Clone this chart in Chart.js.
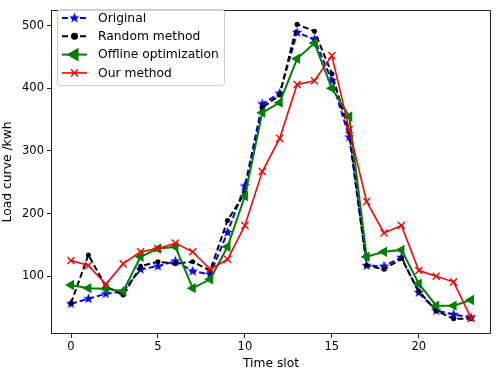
<!DOCTYPE html>
<html>
<head>
<meta charset="utf-8">
<script src="https://cdn.jsdelivr.net/npm/chart.js@4.4.1/dist/chart.umd.min.js"></script>
<style>
  html, body { margin: 0; padding: 0; background: #fff; }
  #wrap { width: 498px; height: 371px; position: relative; }
</style>
</head>
<body>
<div id="wrap"><canvas id="loadChart"></canvas></div>
<script>
// time slots and load values (kwh)
const timeSlots = [0, 1, 2, 3, 4, 5, 6, 7, 8, 9, 10, 11, 12, 13, 14, 15, 16, 17, 18, 19, 20, 21, 22, 23];
const original = [56, 64, 72, 76, 111, 116, 124, 108, 103, 170, 244, 375, 392, 489, 478, 412, 322, 117, 116, 130, 74, 45, 39, 34];
const randomMethod = [57, 134, 84, 70, 116, 123, 120, 123, 109, 189, 233, 369, 389, 502, 491, 423, 330, 117, 111, 128, 76, 45, 32, 32];
const offline = [86, 81, 80, 76, 131, 144, 147, 81, 95, 147, 228, 361, 377, 447, 472, 400, 355, 131, 139, 142, 88, 53, 53, 62];
const ours = [125, 117, 87, 120, 139, 144, 153, 139, 111, 127, 181, 267, 320, 406, 412, 452, 334, 219, 169, 181, 109, 100, 91, 33];

const xTicks = [0, 5, 10, 15, 20];
const yTicks = [100, 200, 300, 400, 500];
const seriesNames = ['Original', 'Random method', 'Offline optimization', 'Our method'];

const FONT = 'DejaVu Sans';

// filled five point star like matplotlib '*'
function makeStar(r, color) {
    const c = document.createElement('canvas');
    const s = Math.ceil(r * 2 + 2);
    c.width = s; c.height = s;
    const g = c.getContext('2d');
    g.fillStyle = color;
    g.beginPath();
    for (let i = 0; i < 10; i++) {
        const rad = i % 2 === 0 ? r : r * 0.42;
        const a = -Math.PI / 2 + i * Math.PI / 5;
        const px = s / 2 + rad * Math.cos(a), py = s / 2 + rad * Math.sin(a);
        if (i === 0) g.moveTo(px, py); else g.lineTo(px, py);
    }
    g.closePath();
    g.fill();
    return c;
}
const starImg = makeStar(5.5, '#0000ff');

const toPts = arr => arr.map((v, i) => ({ x: timeSlots[i], y: v }));

const datasets = [
    {
        label: seriesNames[0], data: toPts(original), order: 4,
        borderColor: '#0000ff', backgroundColor: '#0000ff', borderWidth: 2, borderDash: [6, 3],
        pointStyle: starImg, pointRadius: 5
    },
    {
        label: seriesNames[1], data: toPts(randomMethod), order: 3,
        borderColor: '#000000', backgroundColor: '#000000', borderWidth: 2, borderDash: [6, 3],
        pointStyle: 'circle', pointRadius: 2.5, pointBorderWidth: 0
    },
    {
        label: seriesNames[2], data: toPts(offline), order: 2,
        borderColor: '#008000', backgroundColor: '#008000', borderWidth: 2,
        pointStyle: 'triangle', pointRotation: -90, pointRadius: 6, pointBorderWidth: 0
    },
    {
        label: seriesNames[3], data: toPts(ours), order: 1,
        borderColor: '#ff0000', backgroundColor: '#ff0000', borderWidth: 1.6,
        pointStyle: 'crossRot', pointRadius: 5, pointBorderWidth: 1.4
    }
];

// frame round the axes + matplotlib style legend
const framePlugin = {
    id: 'frameLegend',
    afterDraw(chart) {
        const ctx = chart.ctx;
        const a = chart.chartArea;
        ctx.save();
        ctx.strokeStyle = '#222';
        ctx.lineWidth = 1;
        ctx.strokeRect(Math.round(a.left) + 0.5, Math.round(a.top) + 0.5,
            Math.round(a.right - a.left) - 1, Math.round(a.bottom - a.top) - 1);

        // legend box
        const bx = 57, by = 9, bw = 167, bh = 76;
        ctx.beginPath();
        ctx.roundRect(bx + 0.5, by + 0.5, bw, bh, 3);
        ctx.fillStyle = 'rgba(255,255,255,0.8)';
        ctx.fill();
        ctx.strokeStyle = '#cccccc';
        ctx.stroke();

        ctx.font = '12.3px "' + FONT + '"';
        ctx.textBaseline = 'middle';
        datasets.forEach((ds, i) => {
            const y = 18 + i * 18.3;
            ctx.strokeStyle = ds.borderColor;
            ctx.lineWidth = ds.borderWidth;
            ctx.setLineDash(ds.borderDash || []);
            ctx.beginPath();
            ctx.moveTo(62, y);
            ctx.lineTo(87, y);
            ctx.stroke();
            ctx.setLineDash([]);
            ctx.fillStyle = ds.backgroundColor;
            ctx.strokeStyle = ds.borderColor;
            ctx.lineWidth = ds.pointBorderWidth === undefined ? 1 : ds.pointBorderWidth;
            Chart.helpers.drawPoint(ctx, {
                pointStyle: ds.pointStyle, radius: ds.pointRadius,
                rotation: ds.pointRotation || 0, borderWidth: ctx.lineWidth
            }, 74.5, y);
            ctx.fillStyle = '#000';
            ctx.fillText(ds.label, 98, y + 0.5);
        });
        ctx.restore();
    }
};

new Chart(document.getElementById('loadChart'), {
    type: 'line',
    data: { datasets },
    options: {
        responsive: true,
        maintainAspectRatio: false,
        animation: false,
        layout: { padding: { top: 3, right: 2, left: 0, bottom: 0 } },
        plugins: { legend: { display: false }, tooltip: { enabled: false } },
        elements: { line: { tension: 0 } },
        scales: {
            x: {
                type: 'linear', min: -1.15, max: 24.15,
                afterBuildTicks: s => { s.ticks = xTicks.map(v => ({ value: v })); },
                afterFit: s => { s.height = 37; },
                grid: { drawOnChartArea: false, drawTicks: true, tickLength: 4, color: '#222' },
                border: { display: false },
                ticks: { color: '#000', font: { family: FONT, size: 11.5 }, padding: 2, maxRotation: 0 },
                title: { display: true, text: 'Time slot', color: '#000', font: { family: FONT, size: 12.3 }, padding: { top: 0, bottom: 0 } }
            },
            y: {
                min: 7.8, max: 525,
                afterBuildTicks: s => { s.ticks = yTicks.map(v => ({ value: v })); },
                afterFit: s => { s.width = 51; },
                grid: { drawOnChartArea: false, drawTicks: true, tickLength: 4, color: '#222' },
                border: { display: false },
                ticks: { color: '#000', font: { family: FONT, size: 11.5 }, padding: 3 },
                title: { display: true, text: 'Load curve /kwh', color: '#000', font: { family: FONT, size: 12.3 }, padding: { top: 0, bottom: 1 } }
            }
        }
    },
    plugins: [framePlugin]
});
</script>
</body>
</html>
